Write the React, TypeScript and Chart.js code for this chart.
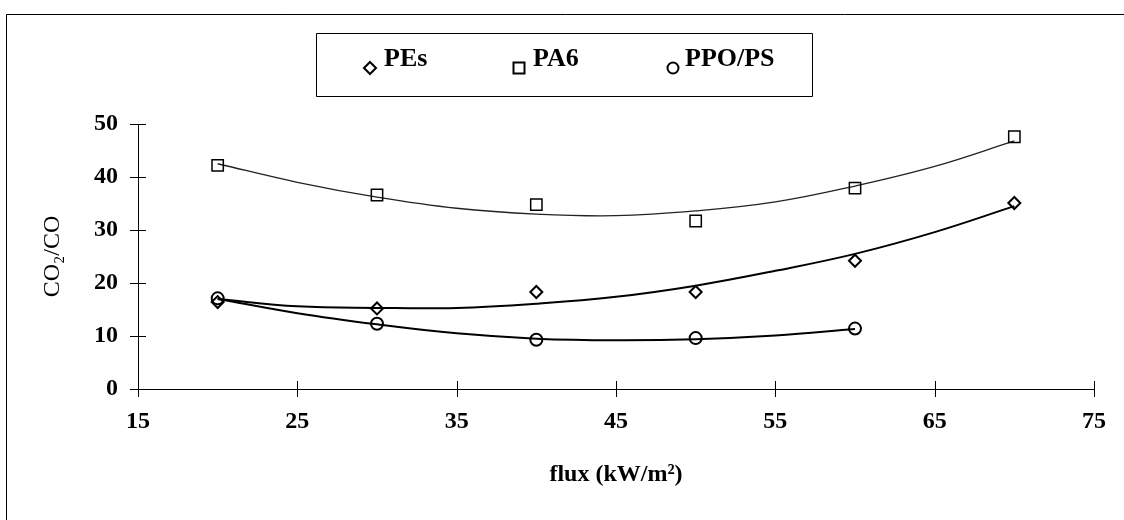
import React, { useEffect, useRef } from 'react';
import { Chart, registerables } from 'chart.js';

Chart.register(...registerables);

// ---- data ----
const fluxValues = [20, 30, 40, 50, 60, 70];
const pesValues = [16.4, 15.2, 18.3, 18.3, 24.2, 35.1];
const pa6Values = [42.2, 36.6, 34.8, 31.7, 37.9, 47.6];
const ppoFlux = [20, 30, 40, 50, 60];
const ppoValues = [17.1, 12.3, 9.3, 9.6, 11.4];

// trend curves
const trendFlux = [20, 25, 30, 35, 40, 45, 50, 55, 60, 65, 70];
const pesTrend = [17.0, 15.6, 15.3, 15.3, 16.1, 17.4, 19.5, 22.3, 25.5, 29.6, 34.5];
const pa6Trend = [42.5, 39.0, 36.2, 34.1, 33.0, 32.7, 33.6, 35.3, 38.3, 42.0, 46.8];
const ppoTrendFlux = [20, 25, 30, 35, 40, 45, 50, 55, 60];
const ppoTrend = [17.0, 14.3, 12.2, 10.5, 9.5, 9.2, 9.4, 10.1, 11.3];

const legendLabels = ['PEs', 'PA6', 'PPO/PS'];
const xTitle = 'flux (kW/m\u00B2)';
const yTitle = 'CO\u2082/CO';

const FONT = "'Liberation Serif', 'Times New Roman', serif";

const toXY = (xs: number[], ys: number[]) => xs.map((x, i) => ({ x, y: ys[i] }));

function drawMarker(ctx: CanvasRenderingContext2D, kind: string, x: number, y: number) {
  ctx.beginPath();
  if (kind === 'diamond') {
    const r = 6;
    ctx.moveTo(x, y - r);
    ctx.lineTo(x + r, y);
    ctx.lineTo(x, y + r);
    ctx.lineTo(x - r, y);
    ctx.closePath();
  } else if (kind === 'square') {
    const h = 5.5;
    ctx.rect(x - h, y - h, 2 * h, 2 * h);
  } else {
    ctx.arc(x, y, 5.5, 0, Math.PI * 2);
  }
  ctx.stroke();
}

const framePlugin = {
  id: 'frame',
  afterDraw(chart: any) {
    const { ctx } = chart;
    ctx.save();
    ctx.strokeStyle = '#000';
    ctx.lineWidth = 1;
    ctx.beginPath();
    ctx.moveTo(6.5, 520);
    ctx.lineTo(6.5, 14.5);
    ctx.lineTo(1124, 14.5);
    ctx.stroke();

    // legend box
    ctx.beginPath();
    ctx.rect(316.5, 33.5, 496, 63);
    ctx.stroke();
    const kinds = ['diamond', 'square', 'circle'];
    const markerX = [370, 519, 673];
    const textX = [384, 533, 685];
    ctx.lineWidth = 2;
    ctx.fillStyle = '#000';
    ctx.font = `bold 26px ${FONT}`;
    ctx.textBaseline = 'alphabetic';
    ctx.textAlign = 'left';
    legendLabels.forEach((lab, i) => {
      drawMarker(ctx, kinds[i], markerX[i], 68);
      ctx.fillText(lab, textX[i], 66);
    });

    // tick marks crossing the axes
    const xs = chart.scales.x;
    const ys = chart.scales.y;
    ctx.lineWidth = 1;
    ctx.beginPath();
    xs.ticks.forEach((t: any) => {
      const px = Math.round(xs.getPixelForValue(t.value)) + 0.5;
      ctx.moveTo(px, ys.bottom - 8);
      ctx.lineTo(px, ys.bottom + 8);
    });
    ys.ticks.forEach((t: any) => {
      const py = Math.round(ys.getPixelForValue(t.value)) + 0.5;
      ctx.moveTo(xs.left - 8, py);
      ctx.lineTo(xs.left + 8, py);
    });
    ctx.stroke();
    ctx.restore();
  },
};

export default function App() {
  const ref = useRef<HTMLCanvasElement | null>(null);

  useEffect(() => {
    if (!ref.current) return;
    Chart.defaults.font.family = FONT;
    Chart.defaults.color = '#000';
    const chart = new Chart(ref.current, {
      type: 'scatter',
      data: {
        datasets: [
          {
            label: legendLabels[0],
            data: toXY(fluxValues, pesValues),
            showLine: false,
            pointStyle: 'rectRot',
            pointRadius: 6,
            pointBorderWidth: 2,
            pointBorderColor: '#000',
            pointBackgroundColor: 'rgba(0,0,0,0)',
          },
          {
            label: legendLabels[1],
            data: toXY(fluxValues, pa6Values),
            showLine: false,
            pointStyle: 'rect',
            pointRadius: 8,
            pointBorderWidth: 1.5,
            pointBorderColor: '#000',
            pointBackgroundColor: 'rgba(0,0,0,0)',
          },
          {
            label: legendLabels[2],
            data: toXY(ppoFlux, ppoValues),
            showLine: false,
            pointStyle: 'circle',
            pointRadius: 6,
            pointBorderWidth: 2,
            pointBorderColor: '#000',
            pointBackgroundColor: 'rgba(0,0,0,0)',
          },
          {
            label: 'PEs trend',
            data: toXY(trendFlux, pesTrend),
            showLine: true,
            pointRadius: 0,
            borderColor: '#000',
            borderWidth: 2,
            tension: 0.4,
          },
          {
            label: 'PA6 trend',
            data: toXY(trendFlux, pa6Trend),
            showLine: true,
            pointRadius: 0,
            borderColor: '#222',
            borderWidth: 1.3,
            tension: 0.4,
          },
          {
            label: 'PPO/PS trend',
            data: toXY(ppoTrendFlux, ppoTrend),
            showLine: true,
            pointRadius: 0,
            borderColor: '#000',
            borderWidth: 2,
            tension: 0.4,
          },
        ],
      },
      options: {
        responsive: false,
        animation: false,
        devicePixelRatio: 1,
        layout: { padding: { top: 124, right: 16, left: 0, bottom: 0 } },
        plugins: {
          legend: { display: false },
          tooltip: { enabled: false },
        },
        scales: {
          x: {
            type: 'linear',
            min: 15,
            max: 75,
            ticks: { stepSize: 10, padding: 18, font: { size: 24, weight: 'bold', family: FONT }, color: '#000' },
            grid: { display: false, drawTicks: false },
            border: { display: true, color: '#000', width: 1 },
            title: {
              display: true,
              text: xTitle,
              font: { size: 24, weight: 'bold', family: FONT },
              color: '#000',
              padding: { top: 0, bottom: 31 },
            },
            afterFit: (s: any) => {
              s.height = 131;
            },
          },
          y: {
            min: 0,
            max: 50,
            ticks: { stepSize: 10, padding: 20, font: { size: 24, weight: 'bold', family: FONT }, color: '#000' },
            grid: { display: false, drawTicks: false },
            border: { display: true, color: '#000', width: 1 },
            title: {
              display: true,
              text: yTitle,
              font: { size: 24, family: FONT },
              color: '#000',
              padding: { top: 38, bottom: 0 },
            },
            afterFit: (s: any) => {
              s.width = 138;
            },
          },
        },
      },
      plugins: [framePlugin],
    } as any);
    return () => chart.destroy();
  }, []);

  return (
    <div style={{ position: 'absolute', left: 0, top: 0, width: 1124, height: 520, background: '#fff' }}>
      <canvas ref={ref} width={1124} height={520} style={{ display: 'block' }} />
    </div>
  );
}
